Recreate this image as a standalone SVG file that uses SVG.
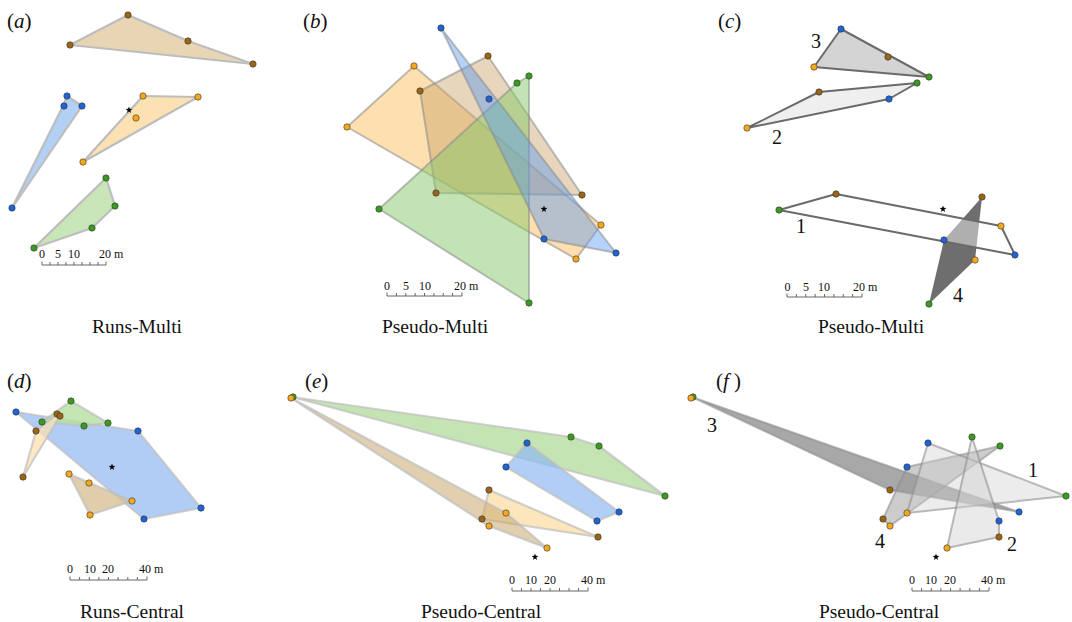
<svg xmlns="http://www.w3.org/2000/svg" xmlns:xlink="http://www.w3.org/1999/xlink" width="1072" height="622" viewBox="0 0 1072 622">
<style>
text{font-family:"Liberation Serif","Times New Roman",serif;fill:#111}
.lab{font-size:21px}
.ttl{font-size:19.5px;text-anchor:middle}
.num{font-size:20px}
.sc{font-size:12px}
.scm{font-size:12px;text-anchor:middle}
.bar{fill:none;stroke:#666;stroke-width:1}
.pa{stroke:#bdbdbd;stroke-width:2.2;stroke-linejoin:round}
.pb{stroke:#8a8a8a;stroke-opacity:.55;stroke-width:2;stroke-linejoin:round}
.pg{stroke:#8f8f8f;stroke-opacity:.6;stroke-width:2;stroke-linejoin:round}
.pc{stroke:#6a6a6a;stroke-width:2;stroke-linejoin:round}
.B{fill:#1e64d6;stroke:#333;stroke-width:.6}
.O{fill:#f4a81c;stroke:#333;stroke-width:.6}
.R{fill:#9c6516;stroke:#333;stroke-width:.6}
.G{fill:#3b9b1f;stroke:#333;stroke-width:.6}
</style>
<defs>
<path id="star" d="M0,-3.6 L0.85,-1.15 3.4,-1.1 1.35,0.45 2.1,2.9 0,1.45 -2.1,2.9 -1.35,0.45 -3.4,-1.1 -0.85,-1.15Z" fill="#000"/>
</defs>

<!-- Panel a -->
<g id="panel-a">
<text class="lab" x="7" y="28">(<tspan font-style="italic">a</tspan>)</text>
<g id="a-brown"><polygon class="pa" fill="#e7d5b4" points="128,15 188,41 253,64 70,45"/>
<circle class="R" cx="128" cy="15" r="3.2"/><circle class="R" cx="188" cy="41" r="3.2"/><circle class="R" cx="253" cy="64" r="3.2"/><circle class="R" cx="70" cy="45" r="3.2"/></g>
<g id="a-blue"><polygon class="pa" fill="#b3d0f5" points="67,96 82,106 12,208 63,106"/>
<circle class="B" cx="67" cy="96" r="3.2"/><circle class="B" cx="64" cy="106" r="3.2"/><circle class="B" cx="82" cy="106" r="3.2"/><circle class="B" cx="12" cy="208" r="3.2"/></g>
<g id="a-orange"><polygon class="pa" fill="#fce2b3" points="143,96 198,97 83,162"/>
<circle class="O" cx="143" cy="96" r="3.2"/><circle class="O" cx="198" cy="97" r="3.2"/><circle class="O" cx="136" cy="118" r="3.2"/><circle class="O" cx="83" cy="162" r="3.2"/></g>
<g id="a-green"><polygon class="pa" fill="#c8e6b8" points="106,178 115,206 92,228 34,248"/>
<circle class="G" cx="106" cy="178" r="3.2"/><circle class="G" cx="115" cy="206" r="3.2"/><circle class="G" cx="92" cy="228" r="3.2"/><circle class="G" cx="34" cy="248" r="3.2"/></g>
<use xlink:href="#star" x="129" y="110"/>
<g id="a-scale"><path class="bar" d="M42,265H106M42,265v-3.5M50,265v-3M58,265v-3M66,265v-3M74,265v-3M82,265v-3M90,265v-3M98,265v-3M106,265v-3.5"/>
<text class="scm" x="42" y="258">0</text><text class="scm" x="58" y="258">5</text><text class="scm" x="74" y="258">10</text><text class="sc" x="99" y="258">20 m</text></g>
<text class="ttl" x="137" y="333">Runs-Multi</text>
</g>

<!-- Panel b -->
<g id="panel-b">
<text class="lab" x="303" y="28">(<tspan font-style="italic">b</tspan>)</text>
<g id="b-orange"><polygon class="pb" fill="#fdc061" fill-opacity=".5" points="414,66 601,225 576,259 347,127"/></g>
<g id="b-brown"><polygon class="pb" fill="#c9a56a" fill-opacity=".45" points="488,56 582,195 436,193 420,91"/></g>
<g id="b-green"><polygon class="pb" fill="#86c96a" fill-opacity=".5" points="529,76 529,303 379,209 517,83"/></g>
<g id="b-blue"><polygon class="pb" fill="#5d9cf0" fill-opacity=".45" points="441,28 616,253 544,239"/></g>
<g id="b-points">
<circle class="O" cx="414" cy="66" r="3.2"/><circle class="O" cx="347" cy="127" r="3.2"/><circle class="O" cx="576" cy="259" r="3.2"/><circle class="O" cx="601" cy="225" r="3.2"/>
<circle class="R" cx="488" cy="56" r="3.2"/><circle class="R" cx="420" cy="91" r="3.2"/><circle class="R" cx="436" cy="193" r="3.2"/><circle class="R" cx="582" cy="195" r="3.2"/>
<circle class="G" cx="529" cy="76" r="3.2"/><circle class="G" cx="517" cy="83" r="3.2"/><circle class="G" cx="379" cy="209" r="3.2"/><circle class="G" cx="529" cy="303" r="3.2"/>
<circle class="B" cx="441" cy="28" r="3.2"/><circle class="B" cx="489" cy="99" r="3.2"/><circle class="B" cx="616" cy="253" r="3.2"/><circle class="B" cx="544" cy="239" r="3.2"/>
</g>
<use xlink:href="#star" x="544" y="209"/>
<g id="b-scale"><path class="bar" d="M387,296H462M387,296v-3.5M396.4,296v-3M405.8,296v-3M415.1,296v-3M424.5,296v-3M433.9,296v-3M443.3,296v-3M452.6,296v-3M462,296v-3.5"/>
<text class="scm" x="387" y="290">0</text><text class="scm" x="406" y="290">5</text><text class="scm" x="425" y="290">10</text><text class="sc" x="454" y="290">20 m</text></g>
<text class="ttl" x="435" y="333">Pseudo-Multi</text>
</g>

<!-- Panel c -->
<g id="panel-c">
<text class="lab" x="718" y="28">(<tspan font-style="italic">c</tspan>)</text>
<g id="c-poly3"><polygon class="pc" fill="#d4d4d4" points="841,29 929,77 814,67"/>
<circle class="B" cx="841" cy="29" r="3.2"/><circle class="R" cx="888" cy="57" r="3.2"/><circle class="G" cx="929" cy="77" r="3.2"/><circle class="O" cx="814" cy="67" r="3.2"/>
<text class="num" x="811" y="48">3</text></g>
<g id="c-poly2"><polygon class="pc" fill="#efefef" points="747,128 819,92 917,83 889,99"/>
<circle class="O" cx="747" cy="128" r="3.2"/><circle class="R" cx="819" cy="92" r="3.2"/><circle class="G" cx="917" cy="83" r="3.2"/><circle class="B" cx="889" cy="99" r="3.2"/>
<text class="num" x="772" y="144">2</text></g>
<g id="c-poly4"><polygon fill="#6e6e6e" points="982,197 975,260 929,304 944,240"/></g>
<g id="c-poly1"><polygon class="pc" fill="#fff" fill-opacity=".45" points="779,210 836,194 1001,226 1015,255"/>
<circle class="G" cx="779" cy="210" r="3.2"/><circle class="R" cx="836" cy="194" r="3.2"/><circle class="O" cx="1001" cy="226" r="3.2"/><circle class="B" cx="1015" cy="255" r="3.2"/>
<text class="num" x="796" y="233">1</text></g>
<g id="c-poly4-points"><circle class="R" cx="982" cy="197" r="3.2"/><circle class="O" cx="975" cy="260" r="3.2"/><circle class="G" cx="929" cy="304" r="3.2"/><circle class="B" cx="944" cy="240" r="3.2"/>
<text class="num" x="953" y="302">4</text></g>
<use xlink:href="#star" x="943" y="209"/>
<g id="c-scale"><path class="bar" d="M787,297H862M787,297v-3.5M796.4,297v-3M805.8,297v-3M815.1,297v-3M824.5,297v-3M833.9,297v-3M843.3,297v-3M852.6,297v-3M862,297v-3.5"/>
<text class="scm" x="787.5" y="291">0</text><text class="scm" x="806" y="291">5</text><text class="scm" x="824" y="291">10</text><text class="sc" x="853" y="291">20 m</text></g>
<text class="ttl" x="871" y="333">Pseudo-Multi</text>
</g>

<!-- Panel d -->
<g id="panel-d">
<text class="lab" x="7" y="388">(<tspan font-style="italic">d</tspan>)</text>
<g id="d-blue"><polygon class="pa" stroke="#999" stroke-opacity=".7" fill="#a9c8f5" fill-opacity=".9" points="16,412 138,431 201,508 144,519"/></g>
<g id="d-green"><polygon class="pa" stroke="#999" stroke-opacity=".7" fill="#b5e0a0" fill-opacity=".8" points="71,401 108,423 84,426 42,422"/></g>
<g id="d-brown"><polygon class="pa" stroke="#999" stroke-opacity=".7" fill="#fbe0b3" fill-opacity=".75" points="57,414 60,416 23,477 36,431"/></g>
<g id="d-orange"><polygon class="pa" stroke="#999" stroke-opacity=".7" fill="#d8c096" fill-opacity=".8" points="69,474 132,501 90,515"/></g>
<g id="d-points">
<circle class="B" cx="16" cy="412" r="3.2"/><circle class="B" cx="138" cy="431" r="3.2"/><circle class="B" cx="201" cy="508" r="3.2"/><circle class="B" cx="144" cy="519" r="3.2"/>
<circle class="G" cx="71" cy="401" r="3.2"/><circle class="G" cx="108" cy="423" r="3.2"/><circle class="G" cx="84" cy="426" r="3.2"/><circle class="G" cx="42" cy="422" r="3.2"/>
<circle class="R" cx="57" cy="414" r="3.2"/><circle class="R" cx="60" cy="416" r="3.2"/><circle class="R" cx="36" cy="431" r="3.2"/><circle class="R" cx="23" cy="477" r="3.2"/>
<circle class="O" cx="69" cy="474" r="3.2"/><circle class="O" cx="89" cy="483" r="3.2"/><circle class="O" cx="132" cy="501" r="3.2"/><circle class="O" cx="90" cy="515" r="3.2"/>
</g>
<use xlink:href="#star" x="112" y="467"/>
<g id="d-scale"><path class="bar" d="M70,580H147M70,580v-3.5M79.6,580v-3M89.3,580v-3M98.9,580v-3M108.5,580v-3M118.1,580v-3M127.8,580v-3M137.4,580v-3M147,580v-3.5"/>
<text class="scm" x="70" y="573">0</text><text class="scm" x="90" y="573">10</text><text class="scm" x="108" y="573">20</text><text class="sc" x="139" y="573">40 m</text></g>
<text class="ttl" x="132" y="618">Runs-Central</text>
</g>

<!-- Panel e -->
<g id="panel-e">
<text class="lab" x="305" y="388">(<tspan font-style="italic">e</tspan>)</text>
<g id="e-green"><polygon class="pa" stroke="#999" stroke-opacity=".7" fill="#b5dfa0" fill-opacity=".8" points="292,397 571,437 599,446 665,496"/></g>
<g id="e-blue"><polygon class="pa" stroke="#999" stroke-opacity=".7" fill="#8fb9f2" fill-opacity=".7" points="527,443 619,512 597,521 506,467"/></g>
<g id="e-brown"><polygon class="pa" stroke="#999" stroke-opacity=".7" fill="#fde2b0" fill-opacity=".85" points="489,490 598,537 482,519"/></g>
<g id="e-orange"><polygon class="pa" stroke="#999" stroke-opacity=".7" fill="#c9a870" fill-opacity=".55" points="291,398 506,513 547,548 489,526"/></g>
<g id="e-points">
<circle class="G" cx="293" cy="397" r="3.2"/><circle class="G" cx="571" cy="437" r="3.2"/><circle class="G" cx="599" cy="446" r="3.2"/><circle class="G" cx="665" cy="496" r="3.2"/>
<circle class="B" cx="527" cy="443" r="3.2"/><circle class="B" cx="619" cy="512" r="3.2"/><circle class="B" cx="597" cy="521" r="3.2"/><circle class="B" cx="506" cy="467" r="3.2"/>
<circle class="R" cx="489" cy="490" r="3.2"/><circle class="R" cx="598" cy="537" r="3.2"/><circle class="R" cx="482" cy="519" r="3.2"/>
<circle class="O" cx="291" cy="398" r="3.2"/><circle class="O" cx="506" cy="513" r="3.2"/><circle class="O" cx="547" cy="548" r="3.2"/><circle class="O" cx="489" cy="526" r="3.2"/>
</g>
<use xlink:href="#star" x="535" y="557"/>
<g id="e-scale"><path class="bar" d="M512,591H588M512,591v-3.5M521.5,591v-3M531,591v-3M540.5,591v-3M550,591v-3M559.5,591v-3M569,591v-3M578.5,591v-3M588,591v-3.5"/>
<text class="scm" x="512" y="584">0</text><text class="scm" x="531" y="584">10</text><text class="scm" x="550" y="584">20</text><text class="sc" x="581" y="584">40 m</text></g>
<text class="ttl" x="481" y="618">Pseudo-Central</text>
</g>

<!-- Panel f -->
<g id="panel-f">
<text class="lab" x="716" y="388">(<tspan font-style="italic">f</tspan> )</text>
<g id="f-poly3"><polygon class="pg" fill="#7a7a7a" fill-opacity=".65" points="692,397 1019,512 890,490"/>
<text class="num" x="707" y="432">3</text></g>
<g id="f-poly4"><polygon class="pg" fill="#9a9a9a" fill-opacity=".5" points="907,467 1000,446 890,526 883,519"/>
<text class="num" x="875" y="548">4</text></g>
<g id="f-poly1"><polygon class="pg" fill="#d0d0d0" fill-opacity=".4" points="928,443 1066,496 907,513"/>
<text class="num" x="1028" y="477">1</text></g>
<g id="f-poly2"><polygon class="pg" fill="#d0d0d0" fill-opacity=".45" points="972,437 999,521 999,537 947,548"/>
<text class="num" x="1007" y="551">2</text></g>
<g id="f-points">
<circle class="G" cx="693" cy="397" r="3.2"/><circle class="O" cx="691" cy="398" r="3.2"/><circle class="R" cx="890" cy="490" r="3.2"/><circle class="B" cx="1019" cy="512" r="3.2"/>
<circle class="B" cx="928" cy="443" r="3.2"/><circle class="G" cx="1066" cy="496" r="3.2"/><circle class="O" cx="907" cy="513" r="3.2"/>
<circle class="B" cx="907" cy="467" r="3.2"/><circle class="G" cx="1000" cy="446" r="3.2"/><circle class="O" cx="890" cy="526" r="3.2"/><circle class="R" cx="883" cy="519" r="3.2"/>
<circle class="G" cx="972" cy="437" r="3.2"/><circle class="B" cx="999" cy="521" r="3.2"/><circle class="R" cx="999" cy="537" r="3.2"/><circle class="O" cx="947" cy="548" r="3.2"/>
</g>
<use xlink:href="#star" x="936" y="557"/>
<g id="f-scale"><path class="bar" d="M912,591H989M912,591v-3.5M921.6,591v-3M931.3,591v-3M940.9,591v-3M950.5,591v-3M960.1,591v-3M969.8,591v-3M979.4,591v-3M989,591v-3.5"/>
<text class="scm" x="912" y="584">0</text><text class="scm" x="931" y="584">10</text><text class="scm" x="950" y="584">20</text><text class="sc" x="981" y="584">40 m</text></g>
<text class="ttl" x="879" y="618">Pseudo-Central</text>
</g>
</svg>
